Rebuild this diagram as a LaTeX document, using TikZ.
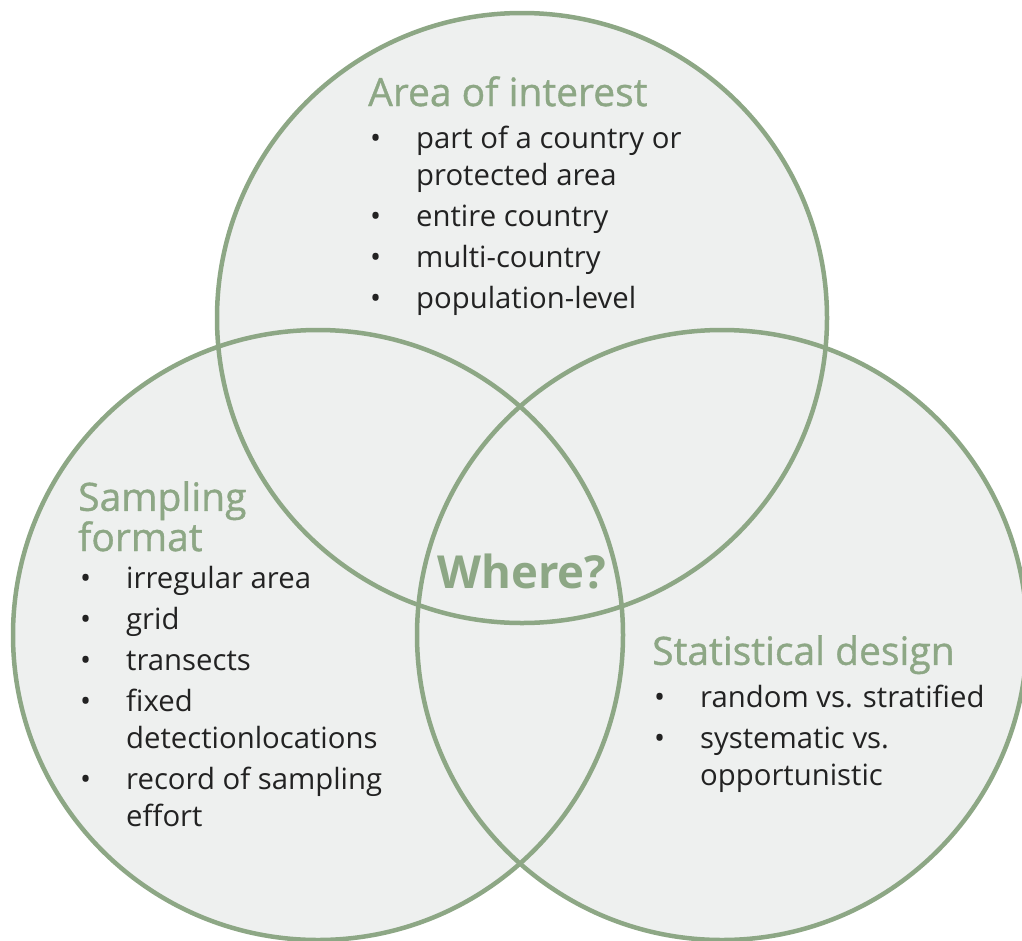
\documentclass[tikz,border=0pt]{standalone}
\usepackage{fontspec}
\setmainfont{Open Sans}
\newfontfamily\headfont[FakeBold=0.9]{Open Sans}
\usepackage{tikz}

\definecolor{vennline}{RGB}{141,167,133}
\definecolor{vennfill}{RGB}{238,240,239}
\definecolor{itemtext}{RGB}{34,34,34}
\newcommand{\bitem}{\makebox[46pt][l]{\textbullet}}
\newcommand{\bcont}{\hspace*{46pt}}

\begin{document}
\begin{tikzpicture}[x=1pt,y=1pt,yscale=-1,xscale=1,
  vennbg/.style={circle,fill=vennfill,minimum size=610pt,inner sep=0pt},
  vennring/.style={circle,draw=vennline,line width=4.5pt,minimum size=610pt,inner sep=0pt},
  head/.style={anchor=north west,inner sep=0pt,text=vennline,align=left,font=\headfont\fontsize{39}{37}\selectfont},
  list/.style={anchor=north west,inner sep=0pt,text=itemtext,align=left,font=\fontsize{29.3}{37}\selectfont}]
\useasboundingbox (0,0) rectangle (1022,940);
\clip (0,0) rectangle (1022,940);

%Shape: Circle fills
\node[vennbg] (aoi-bg) at (522,318) {};
\node[vennbg] (sf-bg) at (318,635) {};
\node[vennbg] (sd-bg) at (722,635) {};
%Shape: Circle outlines
\node[vennring] (aoi) at (522,318) {};
\node[vennring] (sf) at (318,635) {};
\node[vennring] (sd) at (722,635) {};

% Text Node
\node[head] (aoi-title) at (368,76) {Area of interest};
% Text Node
\node[list] (aoi-list) at (370,126) {\bitem part of a country or\\ \bcont protected area\\[4pt] \bitem entire country\\[4pt] \bitem multi-country\\[4pt] \bitem population-level};
% Text Node
\node[head] (sf-title) at (78,481) {Sampling\\format};
% Text Node
\node[list] (sf-list) at (80,566) {\bitem irregular area\\[4pt] \bitem grid\\[4pt] \bitem transects\\[4pt] \bitem fixed\\ \bcont detectionlocations\\[4pt] \bitem record of sampling\\ \bcont effort};
% Text Node
\node[head] (sd-title) at (652,635) {Statistical design};
% Text Node
\node[list] (sd-list) at (654,685) {\bitem random vs. stratified\\[4pt] \bitem systematic vs.\\ \bcont opportunistic};
% Text Node
\node[text=vennline,font=\bfseries\fontsize{45.5}{48}\selectfont,inner sep=0pt] (where) at (522,572) {Where?};

\end{tikzpicture}
\end{document}
